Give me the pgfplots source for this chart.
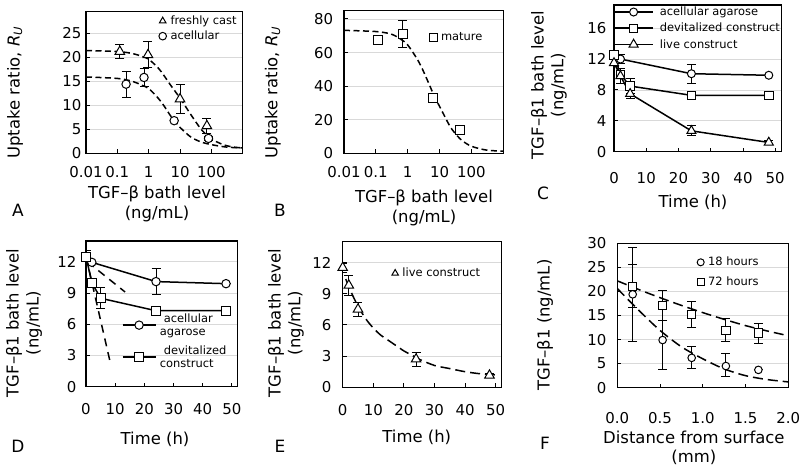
\documentclass[border=0pt]{standalone}
\usepackage{pgfplots}
\pgfplotsset{compat=1.18}
\usepackage{fontspec}
\setmainfont{DejaVu Sans}
\newcommand{\tl}{\fontsize{15}{18}\selectfont}
\newcommand{\al}{\fontsize{16.5}{20}\selectfont}
\newcommand{\lgf}{\fontsize{11.5}{13}\selectfont}
\pgfplotsset{
  panel/.style={scale only axis, axis line style={line width=1.3bp}, tick align=inside, tick pos=left,
    major tick length=4bp, minor tick length=0bp, every tick/.style={black, line width=0.9bp},
    ymajorgrids, grid style={black!15, line width=0.8bp},
    /pgf/number format/assume math mode=true,
    tick label style={font=\tl}, label style={font=\al},
    legend style={font=\lgf, draw=none, fill=none, inner sep=0pt, nodes={inner sep=1bp}, column sep=3bp},
    legend cell align=left},
  fit/.style={black, line width=1.5bp, dash pattern=on 6bp off 3.5bp, smooth, forget plot, mark=none},
  dat/.style={black, line width=1.5bp, mark options={solid, fill=white, line width=1bp}},
  errb/.style={error bars/.cd, y dir=both, y explicit, error bar style={line width=0.9bp, black, solid},
    error mark options={rotate=90, mark size=4.5bp, line width=0.9bp, black}},
}
\begin{document}
\begin{tikzpicture}
\path[use as bounding box] (0bp,0bp) rectangle (800bp,467bp);

% ---------------- A ----------------
\begin{axis}[panel, at={(86bp,313.7bp)}, anchor=south west, width=156.7bp, height=141.6bp,
  xmode=log, xmin=0.01, xmax=1000, ymin=0, ymax=29.5,
  xtick={0.01,0.1,1,10,100}, xticklabels={0.01,0.1,1,10,100}, ytick={0,5,...,25},
  xticklabel style={yshift=-9.5bp}, yticklabel style={xshift=-1bp},
  xlabel={TGF–β bath level\\(ng/mL)}, xlabel style={align=center, at={(axis description cs:0.453,-0.36)}, anchor=center},
  ylabel={Uptake ratio, \textit{R}\textsubscript{\textit{U}}}, ylabel style={at={(axis description cs:-0.453,0.429)}, anchor=center},
  legend style={at={(axis description cs:0.464,0.979)}, anchor=north west, row sep=3bp},
  legend image code/.code={\draw[#1, mark size=3.8bp] plot coordinates {(0bp,0bp)};}]
\addplot[dat, only marks, mark=triangle*, mark size=5.5bp, errb] coordinates {
 (0.12,21.2) +- (0,1.5) (0.95,20.5) +- (0,2.7) (10,11.3) +- (0,3.0) (72,5.7) +- (0,1.5)};
\addlegendentry{freshly cast}
\addplot[dat, only marks, mark=*, mark size=4.2bp, errb] coordinates {
 (0.19,14.4) +- (0,2.7) (0.71,15.8) +- (0,1.9) (6.5,6.8) +- (0,0) (81,3.1) +- (0,0.5)};
\addlegendentry{acellular}
\addplot[fit] coordinates {(0.01,21.4)(0.1,21.2)(0.3,20.8)(0.6,20.2)(1,19.6)(2,17.8)(3,16.3)(5,14.2)(10,11.5)(20,8.5)(30,6.8)(50,4.8)(100,3.0)(200,2.0)(300,1.6)(500,1.3)(1000,1.1)};
\addplot[fit] coordinates {(0.01,15.9)(0.1,15.6)(0.3,15.0)(0.6,14.2)(1,13.5)(2,11.5)(3,10.0)(5,7.8)(7,6.6)(10,5.4)(20,3.6)(30,2.9)(50,2.3)(100,1.8)(300,1.3)(1000,1.1)};
\end{axis}

% ---------------- B ----------------
\begin{axis}[panel, at={(344bp,313.5bp)}, anchor=south west, width=159.3bp, height=143bp,
  xmode=log, xmin=0.01, xmax=1000, ymin=0, ymax=85,
  xtick={0.01,0.1,1,10,100}, xticklabels={0.01,0.1,1,10,100}, ytick={0,20,...,80},
  xticklabel style={yshift=-9.5bp}, yticklabel style={xshift=-7.3bp},
  xlabel={TGF–β bath level\\(ng/mL)}, xlabel style={align=center, at={(axis description cs:0.502,-0.38)}, anchor=center},
  ylabel={Uptake ratio, \textit{R}\textsubscript{\textit{U}}}, ylabel style={at={(axis description cs:-0.446,0.427)}, anchor=center},
  legend style={at={(axis description cs:0.535,0.813)}, anchor=west},
  legend image code/.code={\draw[#1, mark size=3.8bp] plot coordinates {(0bp,0bp)};}]
\addplot[dat, only marks, mark=square*, mark size=4.5bp, errb] coordinates {
 (0.115,67.6) +- (0,0) (0.70,71.2) +- (0,8) (6.0,32.8) +- (0,0) (44.6,14.2) +- (0,0)};
\addlegendentry{mature}
\addplot[fit] coordinates {(0.01,73.2)(0.1,72.5)(0.3,71)(0.6,68)(1,64.5)(2,56)(3,49.5)(5,40)(7,33.5)(10,28)(20,17)(30,12.2)(50,7.8)(100,4.3)(300,2.0)(1000,1.4)};
\end{axis}

% ---------------- C ----------------
\begin{axis}[panel, at={(614bp,315.3bp)}, anchor=south west, width=167.7bp, height=146.7bp,
  xmin=0, xmax=52, ymin=0, ymax=19, xtick={0,10,...,50}, ytick={0,4,...,16},
  xticklabel style={yshift=-17.5bp}, yticklabel style={xshift=-4bp},
  xlabel={Time (h)}, xlabel style={at={(axis description cs:0.471,-0.348)}, anchor=center},
  ylabel={TGF–β1 bath level\\(ng/mL)}, ylabel style={align=center, at={(axis description cs:-0.388,0.455)}, anchor=center},
  legend style={at={(axis description cs:-0.005,0.995)}, anchor=north west, row sep=4bp, column sep=5bp},
  legend image code/.code={\draw[mark repeat=2, mark phase=2, #1] plot coordinates {(0bp,0bp) (19.5bp,0bp) (39bp,0bp)};}]
\addplot[dat, mark=*, mark size=4bp, errb] coordinates {
 (0,12.5) +- (0,0) (2,12.0) +- (0,0.6) (24,10.1) +- (0,1.25) (48,9.9) +- (0,0)};
\addlegendentry{acellular agarose}
\addplot[dat, mark=square*, mark size=4.2bp, errb] coordinates {
 (0,12.5) +- (0,0.6) (2,10.0) +- (0,0) (5,8.5) +- (0,1.0) (24,7.3) +- (0,0) (48,7.3) +- (0,0)};
\addlegendentry{devitalized construct}
\addplot[dat, mark=triangle*, mark size=5.2bp, errb] coordinates {
 (0,11.5) +- (0,0.45) (2,9.8) +- (0,0.95) (5,7.5) +- (0,0.65) (24,2.7) +- (0,0.65) (48,1.2) +- (0,0.2)};
\addlegendentry{live construct}
\end{axis}

% ---------------- D ----------------
\begin{axis}[panel, at={(86bp,80.3bp)}, anchor=south west, width=151.7bp, height=145.7bp,
  xmin=0, xmax=52, ymin=0, ymax=14, xtick={0,10,...,50}, ytick={0,3,...,12},
  xticklabel style={yshift=-12.8bp}, yticklabel style={xshift=-6bp},
  xlabel={Time (h)}, xlabel style={at={(axis description cs:0.455,-0.359)}, anchor=center},
  ylabel={TGF–β1 bath level\\(ng/mL)}, ylabel style={align=center, at={(axis description cs:-0.409,0.437)}, anchor=center},
  legend style={at={(axis description cs:0.235,0.512)}, anchor=north west, row sep=0bp, column sep=2.5bp,
    nodes={align=left, font=\fontsize{11.5}{13.5}\selectfont}},
  legend image code/.code={\draw[mark repeat=2, mark phase=2, #1] plot coordinates {(0bp,0bp) (16.5bp,0bp) (33bp,0bp)}; \path (0bp,-18.5bp) (0bp,4.5bp);}]
\addplot[dat, mark=*, mark size=4.2bp, errb] coordinates {
 (0,12.5) +- (0,0) (2,11.95) +- (0,0) (24,10.1) +- (0,1.25) (48,9.9) +- (0,0)};
\addlegendentry{\hspace*{4bp}acellular\\agarose}
\addplot[dat, mark=square*, mark size=4.5bp, errb] coordinates {
 (0,12.5) +- (0,0.6) (2,10.0) +- (0,0) (5,8.5) +- (0,1.0) (24,7.3) +- (0,0) (48,7.3) +- (0,0)};
\addlegendentry{\hspace*{4bp}devitalized\\construct}
\addplot[fit, sharp plot, dash pattern=on 8bp off 6bp] coordinates {(0,12.5)(8.5,2.1)};
\addplot[fit, sharp plot, dash pattern=on 8bp off 6bp] coordinates {(0.5,12.0)(13.4,9.1)};
\end{axis}

% ---------------- E ----------------
\begin{axis}[panel, at={(342.7bp,79.7bp)}, anchor=south west, width=159bp, height=145.6bp,
  xmin=0, xmax=52, ymin=0, ymax=14, xtick={0,10,...,50}, ytick={0,3,...,12},
  xticklabel style={yshift=-13.9bp}, yticklabel style={xshift=-7.7bp},
  xlabel={Time (h)}, xlabel style={at={(axis description cs:0.466,-0.343)}, anchor=center},
  ylabel={TGF–β1 bath level\\(ng/mL)}, ylabel style={align=center, at={(axis description cs:-0.357,0.442)}, anchor=center},
  legend style={at={(axis description cs:0.308,0.783)}, anchor=west},
  legend image code/.code={\draw[#1, mark size=3.8bp] plot coordinates {(0bp,0bp)};}]
\addplot[dat, only marks, mark=triangle*, mark size=5.5bp, errb] coordinates {
 (0,11.5) +- (0,0.45) (2,9.8) +- (0,0.95) (5,7.5) +- (0,0.65) (24,2.7) +- (0,0.65) (48,1.15) +- (0,0.2)};
\addlegendentry{live construct}
\addplot[fit, dash pattern=on 10bp off 5bp] coordinates {(1,10.4)(2,9.7)(3,9.0)(5,7.8)(7.5,6.6)(10,5.7)(12.5,5.0)(15,4.5)(17.5,4.0)(20,3.5)(22.5,3.1)(25,2.7)(30,2.1)(35,1.8)(40,1.5)(45,1.3)(50,1.2)};
\end{axis}

% ---------------- F ----------------
\begin{axis}[panel, at={(617.3bp,79.3bp)}, anchor=south west, width=171bp, height=144.4bp,
  xmin=0, xmax=2, ymin=0, ymax=30, xtick={0,0.5,...,2}, ytick={0,5,...,30},
  xticklabel style={yshift=-21bp, /pgf/number format/fixed, /pgf/number format/fixed zerofill, /pgf/number format/precision=1},
  yticklabel style={xshift=-7.3bp},
  xlabel={Distance from surface\\(mm)}, xlabel style={align=center, font=\fontsize{16.5}{19}\selectfont, at={(axis description cs:0.448,-0.415)}, anchor=center},
  ylabel={TGF–β1 (ng/mL)}, ylabel style={at={(axis description cs:-0.423,0.434)}, anchor=center},
  legend style={at={(axis description cs:0.466,0.912)}, anchor=north west, row sep=7bp},
  legend image code/.code={\draw[#1, mark size=3.5bp] plot coordinates {(0bp,0bp)};}]
\addplot[dat, only marks, mark=*, mark size=3.8bp, errb] coordinates {
 (0.18,19.4) += (0,9.8) -= (0,9.8) (0.53,9.9) += (0,4.0) -= (0,6.1) (0.87,6.2) += (0,2.4) -= (0,2.2)
 (1.27,4.5) += (0,2.6) -= (0,2.2) (1.65,3.7) += (0,0) -= (0,0)};
\addlegendentry{18 hours}
\addplot[dat, only marks, mark=square*, mark size=4.2bp, errb] coordinates {
 (0.18,21.0) += (0,4.7) -= (0,4.4) (0.53,17.1) += (0,3.1) -= (0,3.2) (0.87,15.2) += (0,2.7) -= (0,2.6)
 (1.27,11.9) += (0,2.4) -= (0,2.2) (1.65,11.4) += (0,2.0) -= (0,2.2)};
\addlegendentry{72 hours}
\addplot[fit, dash pattern=on 10bp off 5bp] coordinates {(0,22.2)(0.25,20.4)(0.5,18.7)(0.75,17.1)(1.0,15.6)(1.25,14.2)(1.5,12.9)(1.75,11.8)(2.0,10.8)};
\addplot[fit, dash pattern=on 10bp off 5bp] coordinates {(0,20.6)(0.25,16.1)(0.5,11.9)(0.75,8.5)(1.0,6.0)(1.25,3.9)(1.5,2.5)(1.75,1.7)(2.0,1.2)};
\end{axis}

% panel letters
\begin{scope}[every node/.style={font=\fontsize{17}{20}\selectfont}]
\node at (18bp,257bp) {A};
\node at (280bp,257bp) {B};
\node at (543bp,274bp) {C};
\node at (18bp,21bp) {D};
\node at (280bp,21bp) {E};
\node at (545bp,24bp) {F};
\end{scope}
\end{tikzpicture}
\end{document}
